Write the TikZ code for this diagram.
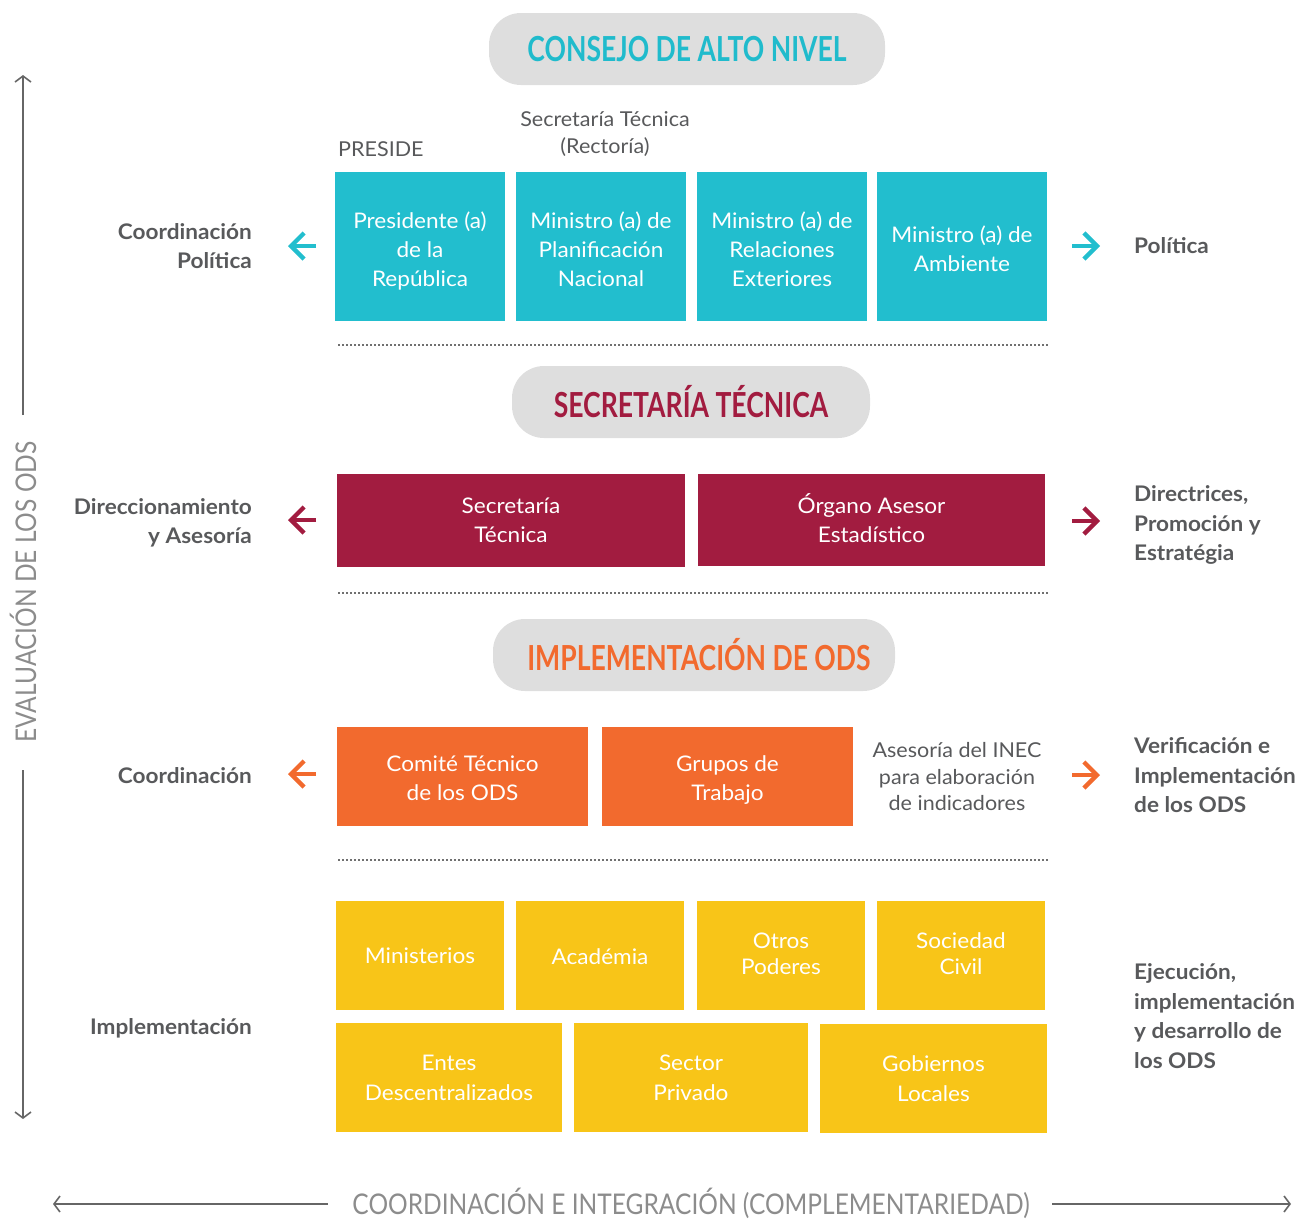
\documentclass[tikz,border=0pt]{standalone}
\usepackage{fontspec}
\setmainfont{Lato}[FakeStretch=1.05]
\newfontfamily\headfont[FakeStretch=0.77]{Lato}
\newfontfamily\axisfont[FakeStretch=0.86]{Lato}
\usetikzlibrary{arrows.meta}
\definecolor{cteal}{HTML}{22BECE}
\definecolor{chteal}{HTML}{20BBCC}
\definecolor{ccrim}{HTML}{A21C40}
\definecolor{corange}{HTML}{F26A2E}
\definecolor{cyellow}{HTML}{F8C518}
\definecolor{cpill}{HTML}{DEDEDE}
\definecolor{ctext}{HTML}{58595B}
\definecolor{caxis}{HTML}{666666}
\definecolor{caxtext}{HTML}{8C8C8C}
\definecolor{cdot}{HTML}{707070}
\newcommand\lowered[2]{\raisebox{-#1}[\height][\depth]{\begin{tabular}{@{}c@{}}#2\end{tabular}}}
\begin{document}
\begin{tikzpicture}[x=1pt,y=-1pt,
  pill/.style={fill=cpill, rounded corners=32pt, minimum height=72pt, inner sep=0pt,
    font=\headfont\bfseries\fontsize{34.5}{36}\selectfont},
  box/.style={inner sep=0pt, align=center, text=white,
    font=\fontsize{21.5}{29}\selectfont},
  tealbox/.style={box, fill=cteal, minimum width=170pt, minimum height=149pt},
  crimbox/.style={box, fill=ccrim, minimum width=348pt, minimum height=93pt},
  orbox/.style={box, fill=corange, minimum width=251pt, minimum height=99pt},
  yelbox/.style={box, fill=cyellow, minimum height=109pt, font=\fontsize{21.5}{30}\selectfont},
  leftlab/.style={anchor=east, align=right, text=ctext, inner sep=0pt,
    font=\bfseries\fontsize{21.5}{29}\selectfont},
  rightlab/.style={anchor=west, align=left, text=ctext, inner sep=0pt,
    font=\bfseries\fontsize{21.5}{29.5}\selectfont},
  note/.style={text=ctext, align=center, inner sep=0pt, font=\fontsize{20.5}{26.5}\selectfont},
  sidearrow/.style={line width=4.4pt, -{Straight Barb[length=13pt,width=26pt,line width=4.4pt]}},
  dotline/.style={cdot, line width=2.2pt, dash pattern=on 2.2pt off 1.8pt},
  axisline/.style={caxis, line width=2pt},
  axistip/.style={axisline, -{Straight Barb[length=6pt,width=16pt,line width=1.6pt]}},
  axtext/.style={text=caxtext, inner sep=0pt, font=\axisfont\fontsize{28.5}{30}\selectfont}
]
\useasboundingbox (0,0) rectangle (1302,1219);

% ---- headers
\node[pill, minimum width=396pt, text=chteal] (h1) at (687,49) {CONSEJO DE ALTO NIVEL};
\node[pill, minimum width=358pt, text=ccrim] (h2) at (691,402) {SECRETARÍA TÉCNICA};
\node[pill, minimum width=402pt, text=corange] (h3) at (694,655) {\hspace*{10pt}IMPLEMENTACIÓN DE ODS};

% ---- level 1
\node[note, anchor=west] (preside) at (338,149) {PRESIDE};
\node[note] (sectec) at (605,134) {Secretaría Técnica\\(Rectoría)};
\node[tealbox] (t1) at (420,246.5) {\lowered{5pt}{Presidente (a)\\de la\\República}};
\node[tealbox] (t2) at (601,246.5) {\lowered{5pt}{Ministro (a) de\\Planificación\\Nacional}};
\node[tealbox] (t3) at (782,246.5) {\lowered{5pt}{Ministro (a) de\\Relaciones\\Exteriores}};
\node[tealbox] (t4) at (962,246.5) {\lowered{5pt}{Ministro (a) de\\Ambiente}};
\node[leftlab] (l1) at (252,246) {Coordinación\\Política};
\node[rightlab] (r1) at (1134,246) {Política};
\coordinate (a1s) at (316,246); \coordinate (a1e) at (288,246);
\coordinate (b1s) at (1072,246); \coordinate (b1e) at (1100,246);
\draw[sidearrow, cteal] (a1s) -- (a1e);
\draw[sidearrow, cteal] (b1s) -- (b1e);
\coordinate (d1a) at (338,345); \coordinate (d1b) at (1048,345);
\draw[dotline] (d1a) -- (d1b);

% ---- level 2
\node[crimbox] (c1) at (511,520.5) {\lowered{2pt}{Secretaría\\Técnica}};
\node[crimbox, minimum width=347pt, minimum height=92pt] (c2) at (871.5,520) {\lowered{2pt}{Órgano Asesor\\Estadístico}};
\node[leftlab] (l2) at (252,523) {Direccionamiento\\y Asesoría};
\node[rightlab] (r2) at (1134,525) {Directrices,\\Promoción y\\Estratégia};
\coordinate (a2s) at (316,520); \coordinate (a2e) at (288,520);
\coordinate (b2s) at (1072,521); \coordinate (b2e) at (1100,521);
\draw[sidearrow, ccrim] (a2s) -- (a2e);
\draw[sidearrow, ccrim] (b2s) -- (b2e);
\coordinate (d2a) at (338,593); \coordinate (d2b) at (1048,593);
\draw[dotline] (d2a) -- (d2b);

% ---- level 3
\node[orbox] (o1) at (462.5,776.5) {\lowered{4pt}{Comité Técnico\\de los ODS}};
\node[orbox] (o2) at (727.5,776.5) {\lowered{4pt}{Grupos de\\Trabajo}};
\node[note] (inec) at (957,777) {Asesoría del INEC\\para elaboración\\de indicadores};
\node[leftlab] (l3) at (252,776) {Coordinación};
\node[rightlab] (r3) at (1134,775.5) {Verificación e\\Implementación\\de los ODS};
\coordinate (a3s) at (316,774); \coordinate (a3e) at (288,774);
\coordinate (b3s) at (1072,775); \coordinate (b3e) at (1100,775);
\draw[sidearrow, corange] (a3s) -- (a3e);
\draw[sidearrow, corange] (b3s) -- (b3e);
\coordinate (d3a) at (338,860); \coordinate (d3b) at (1048,860);
\draw[dotline] (d3a) -- (d3b);

% ---- level 4
\node[yelbox, minimum width=168pt] (y1) at (420,955.5) {Ministerios};
\node[yelbox, minimum width=168pt] (y2) at (600,955.5) {\lowered{3pt}{Académia}};
\node[yelbox, minimum width=168pt, font=\fontsize{21.5}{26}\selectfont] (y3) at (781,955.5) {\lowered{1pt}{Otros\\Poderes}};
\node[yelbox, minimum width=168pt, font=\fontsize{21.5}{26}\selectfont] (y4) at (961,955.5) {\lowered{1pt}{Sociedad\\Civil}};
\node[yelbox, minimum width=226pt] (y5) at (449,1077.5) {Entes\\Descentralizados};
\node[yelbox, minimum width=234pt] (y6) at (691,1077.5) {Sector\\Privado};
\node[yelbox, minimum width=227pt] (y7) at (933.5,1078.5) {Gobiernos\\Locales};
\node[leftlab] (l4) at (252,1028) {Implementación};
\node[rightlab] (r4) at (1134,1016) {Ejecución,\\implementación\\y desarrollo de\\los ODS};

% ---- vertical axis
\node[axtext, rotate=90] (vax) at (23,592) {EVALUACIÓN DE LOS ODS};
\coordinate (vtop) at (23,75); \coordinate (vbot) at (23,1119);
\coordinate (vu) at (23,415); \coordinate (vd) at (23,770);
\draw[axistip] (vu) -- (vtop);
\draw[axistip] (vd) -- (vbot);

% ---- horizontal axis
\node[axtext] (hax) at (691,1203) {COORDINACIÓN E INTEGRACIÓN (COMPLEMENTARIEDAD)};
\coordinate (hl) at (53,1204); \coordinate (hr) at (1291,1204);
\coordinate (hl2) at (328,1204); \coordinate (hr2) at (1052,1204);
\draw[axistip] (hl2) -- (hl);
\draw[axistip] (hr2) -- (hr);
\end{tikzpicture}
\end{document}
